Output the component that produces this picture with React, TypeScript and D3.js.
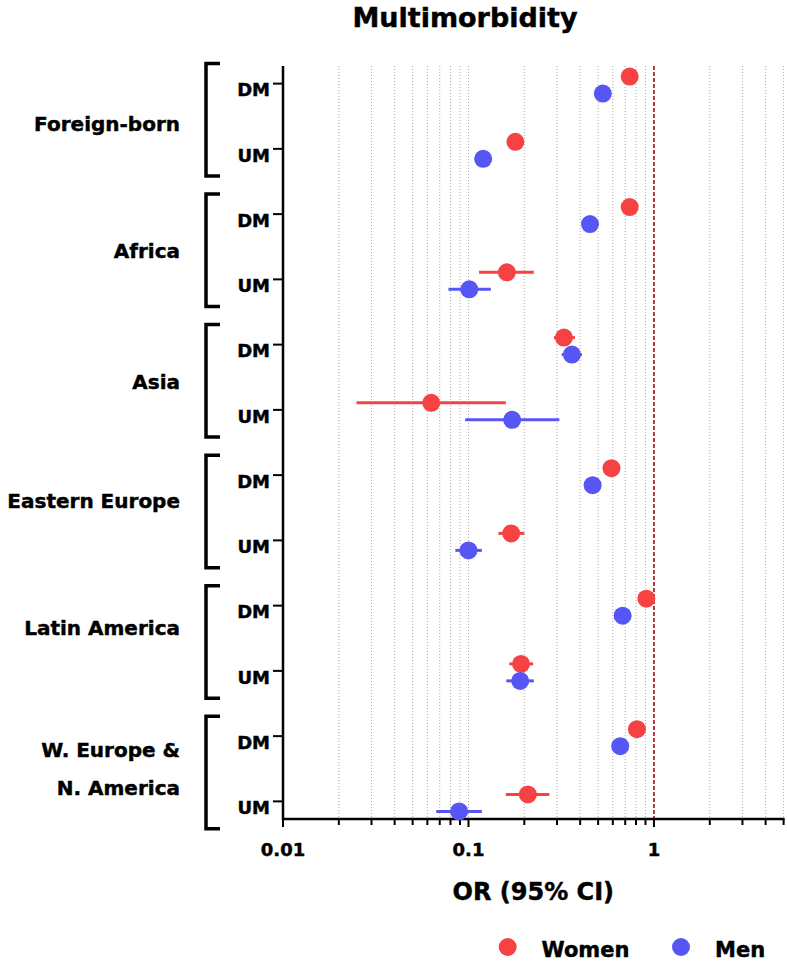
import React from "react";
import * as d3 from "d3";

const groups = ["Foreign-born", "Africa", "Asia", "Eastern Europe", "Latin America", "W. Europe &|N. America"];
const groupLabelDy = [7.5, 3.5, 4, -7, -10.5, 0];
const subRows = ["DM", "UM"];

const womenOR = [0.74, 0.179, 0.74, 0.161, 0.327, 0.063, 0.59, 0.17, 0.91, 0.192, 0.81, 0.209];
const womenLo = [0.7, 0.168, 0.7, 0.114, 0.289, 0.0249, 0.56, 0.145, 0.87, 0.166, 0.77, 0.159];
const womenHi = [0.78, 0.19, 0.78, 0.225, 0.375, 0.159, 0.62, 0.2, 0.95, 0.223, 0.85, 0.273];

const menOR = [0.53, 0.12, 0.452, 0.101, 0.361, 0.172, 0.467, 0.1, 0.678, 0.19, 0.658, 0.089];
const menLo = [0.5, 0.112, 0.425, 0.078, 0.318, 0.096, 0.44, 0.085, 0.64, 0.16, 0.62, 0.067];
const menHi = [0.56, 0.128, 0.48, 0.132, 0.409, 0.309, 0.5, 0.118, 0.72, 0.225, 0.7, 0.118];

const xTickLabels = ["0.01", "0.1", "1"];
const xMajor = [0.01, 0.1, 1];
const xTicks = [0.01, 0.02, 0.03, 0.04, 0.05, 0.06, 0.07, 0.08, 0.09, 0.1, 0.2, 0.3, 0.4, 0.5, 0.6, 0.7, 0.8, 0.9, 1, 2, 3, 4, 5];

const seriesNames = ["Women", "Men"];
const RED = "#f64242";
const BLUE = "#5656f4";
const FONT = "'DejaVu Sans', sans-serif";

export default function App() {
  const W = 787, H = 961;
  const top = 66, bottom = 819, left = 283, right = 783.6;
  const x = d3.scaleLog().domain([0.01, 5]).range([left, right]);
  const rowIdx = d3.range(groups.length * 2);
  const y = d3.scalePoint<number>().domain(rowIdx).range([top, bottom]).padding(0.27);
  const r = 9;

  const series = [
    { or: womenOR, lo: womenLo, hi: womenHi, color: RED, dy: -7 },
    { or: menOR, lo: menLo, hi: menHi, color: BLUE, dy: 10 },
  ];

  const txt = { stroke: "#000", strokeWidth: 0.45 } as const;

  return (
    <svg width={W} height={H} style={{ position: "absolute", left: 0, top: 0, background: "#fff" }} fontFamily={FONT} fontWeight="bold">
      {/* title */}
      <text x={465} y={27} textAnchor="middle" fontSize={27} {...txt}>Multimorbidity</text>

      {/* grid lines */}
      {xTicks.filter((t) => t !== 0.01 && t !== 1).map((t) => (
        <line key={"g" + t} x1={x(t)} x2={x(t)} y1={top} y2={bottom} stroke="#aaaaaa" strokeWidth={1} strokeDasharray="1,2" />
      ))}
      {/* reference line at 1 */}
      <line x1={x(1)} x2={x(1)} y1={top} y2={bottom} stroke="#b3262b" strokeWidth={1.8} strokeDasharray="4,2" />

      {/* y axis */}
      <line x1={left} x2={left} y1={top} y2={bottom + 1} stroke="#000" strokeWidth={2.5} />
      {rowIdx.map((i) => (
        <g key={"yt" + i}>
          <line x1={left - 10} x2={left} y1={y(i)} y2={y(i)} stroke="#000" strokeWidth={2} />
          <text x={270} y={(y(i) as number) + 12.8} textAnchor="end" fontSize={18} {...txt}>{subRows[i % 2]}</text>
        </g>
      ))}

      {/* brackets and group labels */}
      {groups.map((g, gi) => {
        const yd = y(gi * 2) as number;
        const yu = y(gi * 2 + 1) as number;
        const bt = yd - 20;
        const bb = bt + 112.5;
        const mid = (yd + yu) / 2;
        const lines = g.split("|");
        return (
          <g key={g}>
            <path d={`M220,${bt} H206 V${bb} H220`} fill="none" stroke="#000" strokeWidth={3.5} />
            {lines.length === 1 ? (
              <text x={180} y={mid + groupLabelDy[gi] + 7.5} textAnchor="end" fontSize={20} {...txt}>{g}</text>
            ) : (
              lines.map((ln, li) => (
                <text key={ln} x={180} y={mid + (li === 0 ? -18.8 : 18.7) + 7.5} textAnchor="end" fontSize={20} {...txt}>{ln}</text>
              ))
            )}
          </g>
        );
      })}

      {/* x axis */}
      <line x1={left - 1} x2={right + 1} y1={bottom} y2={bottom} stroke="#000" strokeWidth={2.5} />
      {xTicks.map((t) => (
        <line key={"xt" + t} x1={x(t)} x2={x(t)} y1={bottom} y2={bottom + (xMajor.includes(t) ? 8 : 6)} stroke="#000" strokeWidth={2} />
      ))}
      {xMajor.map((t, i) => (
        <text key={"xl" + t} x={x(t)} y={856} textAnchor="middle" fontSize={18} {...txt}>{xTickLabels[i]}</text>
      ))}
      <text x={(left + right) / 2} y={900} textAnchor="middle" fontSize={24} {...txt}>OR (95% CI)</text>

      {/* data */}
      {series.map((s, si) => (
        <g key={"s" + si}>
          {rowIdx.map((i) => {
            const cy = (y(i) as number) + s.dy;
            return (
              <g key={i}>
                <line x1={x(s.lo[i])} x2={x(s.hi[i])} y1={cy} y2={cy} stroke={s.color} strokeWidth={3} />
                <circle cx={x(s.or[i])} cy={cy} r={r} fill={s.color} />
              </g>
            );
          })}
        </g>
      ))}

      {/* legend */}
      <circle cx={507.7} cy={947} r={9} fill={RED} />
      <text x={541.5} y={956.5} fontSize={21} {...txt}>{seriesNames[0]}</text>
      <circle cx={681} cy={947} r={9} fill={BLUE} />
      <text x={715} y={956.5} fontSize={21} {...txt}>{seriesNames[1]}</text>
    </svg>
  );
}
